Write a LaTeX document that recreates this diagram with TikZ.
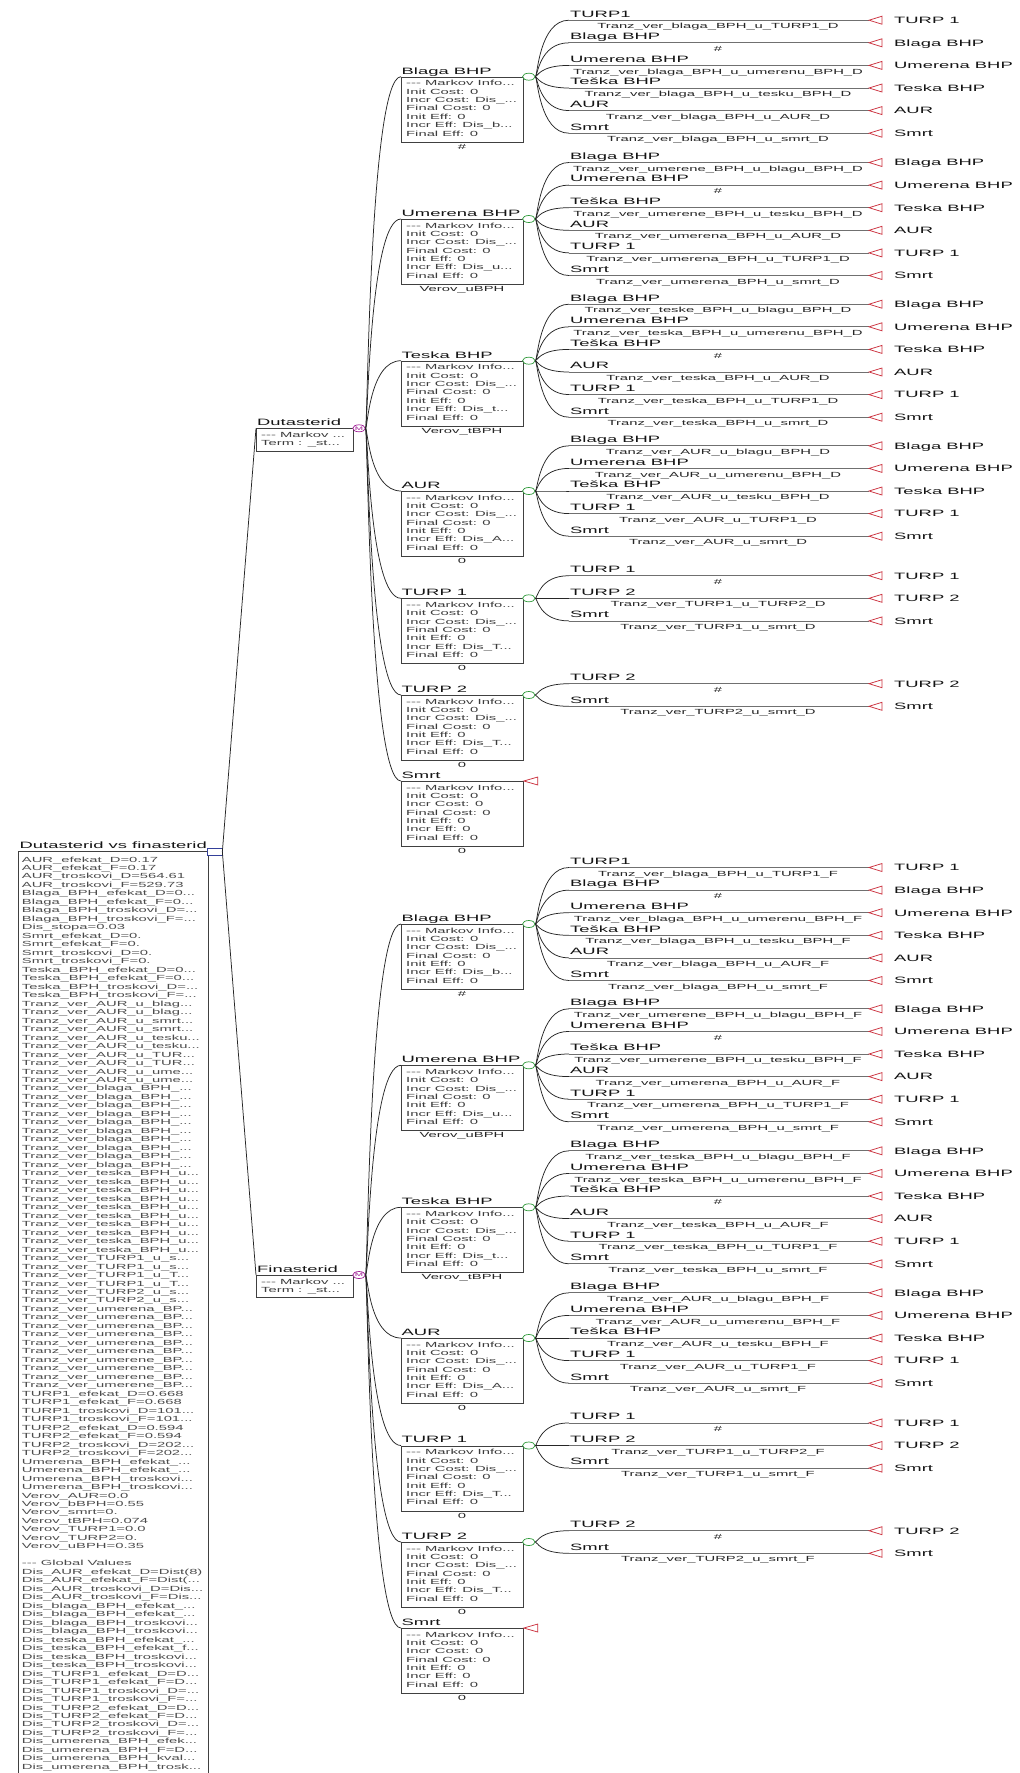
\documentclass[tikz,border=0pt]{standalone}
\usepackage{fontspec}
\setmainfont{Liberation Sans}[FakeStretch=2.0]
\usetikzlibrary{calc,shapes.geometric}
\definecolor{lnc}{HTML}{262626}
\definecolor{hln}{HTML}{707070}
\definecolor{trired}{HTML}{CC3340}
\definecolor{cgreen}{HTML}{2F9A3A}
\definecolor{mpurple}{HTML}{A01E96}
\definecolor{sqblue}{HTML}{34409A}
\definecolor{btc}{HTML}{3C3C3C}
\newcommand\fL{\fontsize{9.2}{10}\selectfont}
\newcommand\fS{\fontsize{7.4}{8.4}\selectfont}
\newcount\rowi
\tikzset{
 conn/.style={draw=lnc, line width=0.75pt},
 brl/.style={draw=hln, line width=0.75pt},
 tri/.style={draw=trired, line width=0.75pt, line join=miter},
 sbox/.style={draw=black!75, line width=0.8pt, anchor=north west, minimum width=122pt, minimum height=65pt, inner sep=0pt},
 mbox/.style={draw=black!75, line width=0.8pt, anchor=north west, minimum width=97pt, minimum height=22.4pt, inner sep=0pt},
 mlab/.style={anchor=base west, inner sep=0pt, font=\fL, text=black!92},
 btxt/.style={anchor=base west, inner sep=0pt, font=\fS, text=btc},
 ulab/.style={anchor=base, inner sep=0pt, font=\fS, text=black!85},
 rtxt/.style={anchor=base west, inner sep=0pt, font=\fS, text=black!70},
 circ/.style={ellipse, draw=cgreen, line width=0.7pt, minimum width=12.5pt, minimum height=7pt, inner sep=0pt, fill=white},
 mmark/.style={ellipse, draw=mpurple, line width=0.7pt, minimum width=12.5pt, minimum height=7pt, inner sep=0pt, fill=white, text=mpurple, font=\fontsize{5}{5}\selectfont},
 rsq/.style={rectangle, draw=sqblue, line width=0.7pt, minimum width=15pt, minimum height=7pt, inner sep=0pt, fill=white},
}
% connector: from #1 (node anchor) to #2 (node anchor / coordinate)
\newcommand\link[2]{\draw[conn] (#1) .. controls ($(#1)+(2,0)$) and ($(#1|-#2)+(4,0)$) .. (#2);}
% state box: #1 name, #2 top y, #3 label, #4 incr cost, #5 incr eff, #6 text below
\newcommand\statebox[6]{%
  \node[sbox] (#1) at (401,#2) {};
  \node[mlab] (#1L) at (401.5,#2-2.7) {#3};
  \node[btxt] (#1a) at (406,#2+9.2) {-{}-{}- Markov Info...};
  \node[btxt] (#1b) at (406,#2+17.55) {Init Cost: 0};
  \node[btxt] (#1c) at (406,#2+25.9) {Incr Cost: #4};
  \node[btxt] (#1d) at (406,#2+34.25) {Final Cost: 0};
  \node[btxt] (#1e) at (406,#2+42.6) {Init Eff: 0};
  \node[btxt] (#1f) at (406,#2+50.95) {Incr Eff: #5};
  \node[btxt] (#1g) at (406,#2+59.3) {Final Eff: 0};
  \node[ulab] (#1u) at (462,#2+72.6) {#6};
}
% green chance circle at the box's top right
\newcommand\chance[1]{\node[circ] (#1o) at ($(#1.north east)+(5,0)$) {};}
% terminal mark at the box's top right
\newcommand\term[1]{\coordinate (#1o) at (#1.north east); \draw[tri] (#1o) -- ++(14,-4) -- ++(0,8) -- cycle;}
% transition row: #1 parent circle, #2 name, #3 y, #4 label above, #5 label below, #6 label right
\newcommand\kid[6]{%
  \coordinate (#2) at (569,#3);
  \coordinate (#2t) at (869,#3);
  \link{#1.east}{#2}
  \draw[brl] (#2) -- (#2t);
  \draw[tri] (#2t) -- ++(13,-4) -- ++(0,8) -- cycle;
  \node[mlab] (#2a) at (570,#3-3.2) {#4};
  \node[ulab] (#2b) at (718,#3+8.6) {#5};
  \node[mlab] (#2r) at (894,#3+3.3) {#6};
}
% markov node: #1 name, #2 top y, #3 label
\newcommand\mnode[3]{%
  \node[mbox] (#1) at (256,#2) {};
  \node[mlab] (#1L) at (257,#2-2.7) {#3};
  \node[btxt] (#1a) at (261,#2+9.2) {-{}-{}- Markov ...};
  \node[btxt] (#1b) at (261,#2+17.5) {Term : \_st...};
  \node[mmark] (#1o) at (359,#2) {M};
}
\newcommand\rr[1]{\node[rtxt] (row\the\rowi) at (21.7,862+\rowi*8.48) {#1};\global\advance\rowi by 1\relax}

\begin{document}
\begin{tikzpicture}[x=1pt,y=-1pt]
\fill[white] (0,0) rectangle (1020,1773);
\useasboundingbox (0,0) rectangle (1020,1773);

%% ---------------- root ----------------
\draw[draw=black!75, line width=0.8pt] (18.3,1790) |- (208.3,851.7) -- (208.3,1790);
\node[mlab] (root) at (19.5,848) {Dutasterid vs finasterid};
\rowi=0
\rr{AUR\_efekat\_D=0.17}
\rr{AUR\_efekat\_F=0.17}
\rr{AUR\_troskovi\_D=564.61}
\rr{AUR\_troskovi\_F=529.73}
\rr{Blaga\_BPH\_efekat\_D=0...}
\rr{Blaga\_BPH\_efekat\_F=0...}
\rr{Blaga\_BPH\_troskovi\_D=...}
\rr{Blaga\_BPH\_troskovi\_F=...}
\rr{Dis\_stopa=0.03}
\rr{Smrt\_efekat\_D=0.}
\rr{Smrt\_efekat\_F=0.}
\rr{Smrt\_troskovi\_D=0.}
\rr{Smrt\_troskovi\_F=0.}
\rr{Teska\_BPH\_efekat\_D=0...}
\rr{Teska\_BPH\_efekat\_F=0...}
\rr{Teska\_BPH\_troskovi\_D=...}
\rr{Teska\_BPH\_troskovi\_F=...}
\rr{Tranz\_ver\_AUR\_u\_blag...}
\rr{Tranz\_ver\_AUR\_u\_blag...}
\rr{Tranz\_ver\_AUR\_u\_smrt...}
\rr{Tranz\_ver\_AUR\_u\_smrt...}
\rr{Tranz\_ver\_AUR\_u\_tesku...}
\rr{Tranz\_ver\_AUR\_u\_tesku...}
\rr{Tranz\_ver\_AUR\_u\_TUR...}
\rr{Tranz\_ver\_AUR\_u\_TUR...}
\rr{Tranz\_ver\_AUR\_u\_ume...}
\rr{Tranz\_ver\_AUR\_u\_ume...}
\rr{Tranz\_ver\_blaga\_BPH\_...}
\rr{Tranz\_ver\_blaga\_BPH\_...}
\rr{Tranz\_ver\_blaga\_BPH\_...}
\rr{Tranz\_ver\_blaga\_BPH\_...}
\rr{Tranz\_ver\_blaga\_BPH\_...}
\rr{Tranz\_ver\_blaga\_BPH\_...}
\rr{Tranz\_ver\_blaga\_BPH\_...}
\rr{Tranz\_ver\_blaga\_BPH\_...}
\rr{Tranz\_ver\_blaga\_BPH\_...}
\rr{Tranz\_ver\_blaga\_BPH\_...}
\rr{Tranz\_ver\_teska\_BPH\_u...}
\rr{Tranz\_ver\_teska\_BPH\_u...}
\rr{Tranz\_ver\_teska\_BPH\_u...}
\rr{Tranz\_ver\_teska\_BPH\_u...}
\rr{Tranz\_ver\_teska\_BPH\_u...}
\rr{Tranz\_ver\_teska\_BPH\_u...}
\rr{Tranz\_ver\_teska\_BPH\_u...}
\rr{Tranz\_ver\_teska\_BPH\_u...}
\rr{Tranz\_ver\_teska\_BPH\_u...}
\rr{Tranz\_ver\_teska\_BPH\_u...}
\rr{Tranz\_ver\_TURP1\_u\_s...}
\rr{Tranz\_ver\_TURP1\_u\_s...}
\rr{Tranz\_ver\_TURP1\_u\_T...}
\rr{Tranz\_ver\_TURP1\_u\_T...}
\rr{Tranz\_ver\_TURP2\_u\_s...}
\rr{Tranz\_ver\_TURP2\_u\_s...}
\rr{Tranz\_ver\_umerena\_BP...}
\rr{Tranz\_ver\_umerena\_BP...}
\rr{Tranz\_ver\_umerena\_BP...}
\rr{Tranz\_ver\_umerena\_BP...}
\rr{Tranz\_ver\_umerena\_BP...}
\rr{Tranz\_ver\_umerena\_BP...}
\rr{Tranz\_ver\_umerene\_BP...}
\rr{Tranz\_ver\_umerene\_BP...}
\rr{Tranz\_ver\_umerene\_BP...}
\rr{Tranz\_ver\_umerene\_BP...}
\rr{TURP1\_efekat\_D=0.668}
\rr{TURP1\_efekat\_F=0.668}
\rr{TURP1\_troskovi\_D=101...}
\rr{TURP1\_troskovi\_F=101...}
\rr{TURP2\_efekat\_D=0.594}
\rr{TURP2\_efekat\_F=0.594}
\rr{TURP2\_troskovi\_D=202...}
\rr{TURP2\_troskovi\_F=202...}
\rr{Umerena\_BPH\_efekat\_...}
\rr{Umerena\_BPH\_efekat\_...}
\rr{Umerena\_BPH\_troskovi...}
\rr{Umerena\_BPH\_troskovi...}
\rr{Verov\_AUR=0.0}
\rr{Verov\_bBPH=0.55}
\rr{Verov\_smrt=0.}
\rr{Verov\_tBPH=0.074}
\rr{Verov\_TURP1=0.0}
\rr{Verov\_TURP2=0.}
\rr{Verov\_uBPH=0.35}
\rr{}
\rr{-{}-{}- Global Values}
\rr{Dis\_AUR\_efekat\_D=Dist(8)}
\rr{Dis\_AUR\_efekat\_F=Dist(...}
\rr{Dis\_AUR\_troskovi\_D=Dis...}
\rr{Dis\_AUR\_troskovi\_F=Dis...}
\rr{Dis\_blaga\_BPH\_efekat\_...}
\rr{Dis\_blaga\_BPH\_efekat\_...}
\rr{Dis\_blaga\_BPH\_troskovi...}
\rr{Dis\_blaga\_BPH\_troskovi...}
\rr{Dis\_teska\_BPH\_efekat\_...}
\rr{Dis\_teska\_BPH\_efekat\_f...}
\rr{Dis\_teska\_BPH\_troskovi...}
\rr{Dis\_teska\_BPH\_troskovi...}
\rr{Dis\_TURP1\_efekat\_D=D...}
\rr{Dis\_TURP1\_efekat\_F=D...}
\rr{Dis\_TURP1\_troskovi\_D=...}
\rr{Dis\_TURP1\_troskovi\_F=...}
\rr{Dis\_TURP2\_efekat\_D=D...}
\rr{Dis\_TURP2\_efekat\_F=D...}
\rr{Dis\_TURP2\_troskovi\_D=...}
\rr{Dis\_TURP2\_troskovi\_F=...}
\rr{Dis\_umerena\_BPH\_efek...}
\rr{Dis\_umerena\_BPH\_F=D...}
\rr{Dis\_umerena\_BPH\_kval...}
\rr{Dis\_umerena\_BPH\_trosk...}

%% ---------------- Markov nodes ----------------
\mnode{dut}{428.3}{Dutasterid}
\mnode{fin}{1275}{Finasterid}
\node[rsq] (rsq) at (214.5,851.7) {};
\draw[conn] (rsq.east) -- (dut.north west);
\draw[conn] (rsq.east) -- (fin.north west);

%% ================= Dutasterid =================
\statebox{dB}{76.7}{Blaga BHP}{Dis\_...}{Dis\_b...}{\#}
\statebox{dU}{219}{Umerena BHP}{Dis\_...}{Dis\_u...}{Verov\_uBPH}
\statebox{dT}{360.7}{Teska BHP}{Dis\_...}{Dis\_t...}{Verov\_tBPH}
\statebox{dA}{491}{AUR}{Dis\_...}{Dis\_A...}{0}
\statebox{dP}{598.3}{TURP 1}{Dis\_...}{Dis\_T...}{0}
\statebox{dQ}{695}{TURP 2}{Dis\_...}{Dis\_T...}{0}
\statebox{dS}{781}{Smrt}{0}{0}{0}
\foreach \s in {dB,dU,dT,dA,dP,dQ,dS} {\link{duto.east}{\s.north west}}
\chance{dB}\chance{dU}\chance{dT}\chance{dA}\chance{dP}\chance{dQ}\term{dS}

\kid{dBo}{dB1}{76.7-56.5}{TURP1}{Tranz\_ver\_blaga\_BPH\_u\_TURP1\_D}{TURP 1}
\kid{dBo}{dB2}{76.7-33.9}{Blaga BHP}{\#}{Blaga BHP}
\kid{dBo}{dB3}{76.7-11.3}{Umerena BHP}{Tranz\_ver\_blaga\_BPH\_u\_umerenu\_BPH\_D}{Umerena BHP}
\kid{dBo}{dB4}{76.7+11.3}{Teška BHP}{Tranz\_ver\_blaga\_BPH\_u\_tesku\_BPH\_D}{Teska BHP}
\kid{dBo}{dB5}{76.7+33.9}{AUR}{Tranz\_ver\_blaga\_BPH\_u\_AUR\_D}{AUR}
\kid{dBo}{dB6}{76.7+56.5}{Smrt}{Tranz\_ver\_blaga\_BPH\_u\_smrt\_D}{Smrt}

\kid{dUo}{dU1}{219-56.5}{Blaga BHP}{Tranz\_ver\_umerene\_BPH\_u\_blagu\_BPH\_D}{Blaga BHP}
\kid{dUo}{dU2}{219-33.9}{Umerena BHP}{\#}{Umerena BHP}
\kid{dUo}{dU3}{219-11.3}{Teška BHP}{Tranz\_ver\_umerene\_BPH\_u\_tesku\_BPH\_D}{Teska BHP}
\kid{dUo}{dU4}{219+11.3}{AUR}{Tranz\_ver\_umerena\_BPH\_u\_AUR\_D}{AUR}
\kid{dUo}{dU5}{219+33.9}{TURP 1}{Tranz\_ver\_umerena\_BPH\_u\_TURP1\_D}{TURP 1}
\kid{dUo}{dU6}{219+56.5}{Smrt}{Tranz\_ver\_umerena\_BPH\_u\_smrt\_D}{Smrt}

\kid{dTo}{dT1}{360.7-56.5}{Blaga BHP}{Tranz\_ver\_teske\_BPH\_u\_blagu\_BPH\_D}{Blaga BHP}
\kid{dTo}{dT2}{360.7-33.9}{Umerena BHP}{Tranz\_ver\_teska\_BPH\_u\_umerenu\_BPH\_D}{Umerena BHP}
\kid{dTo}{dT3}{360.7-11.3}{Teška BHP}{\#}{Teska BHP}
\kid{dTo}{dT4}{360.7+11.3}{AUR}{Tranz\_ver\_teska\_BPH\_u\_AUR\_D}{AUR}
\kid{dTo}{dT5}{360.7+33.9}{TURP 1}{Tranz\_ver\_teska\_BPH\_u\_TURP1\_D}{TURP 1}
\kid{dTo}{dT6}{360.7+56.5}{Smrt}{Tranz\_ver\_teska\_BPH\_u\_smrt\_D}{Smrt}

\kid{dAo}{dA1}{491-45.2}{Blaga BHP}{Tranz\_ver\_AUR\_u\_blagu\_BPH\_D}{Blaga BHP}
\kid{dAo}{dA2}{491-22.6}{Umerena BHP}{Tranz\_ver\_AUR\_u\_umerenu\_BPH\_D}{Umerena BHP}
\kid{dAo}{dA3}{491}{Teška BHP}{Tranz\_ver\_AUR\_u\_tesku\_BPH\_D}{Teska BHP}
\kid{dAo}{dA4}{491+22.6}{TURP 1}{Tranz\_ver\_AUR\_u\_TURP1\_D}{TURP 1}
\kid{dAo}{dA5}{491+45.2}{Smrt}{Tranz\_ver\_AUR\_u\_smrt\_D}{Smrt}

\kid{dPo}{dP1}{598.3-22.6}{TURP 1}{\#}{TURP 1}
\kid{dPo}{dP2}{598.3}{TURP 2}{Tranz\_ver\_TURP1\_u\_TURP2\_D}{TURP 2}
\kid{dPo}{dP3}{598.3+22.6}{Smrt}{Tranz\_ver\_TURP1\_u\_smrt\_D}{Smrt}

\kid{dQo}{dQ1}{695-11.3}{TURP 2}{\#}{TURP 2}
\kid{dQo}{dQ2}{695+11.3}{Smrt}{Tranz\_ver\_TURP2\_u\_smrt\_D}{Smrt}

%% ================= Finasterid =================
\statebox{fB}{924}{Blaga BHP}{Dis\_...}{Dis\_b...}{\#}
\statebox{fU}{1065.3}{Umerena BHP}{Dis\_...}{Dis\_u...}{Verov\_uBPH}
\statebox{fT}{1207.3}{Teska BHP}{Dis\_...}{Dis\_t...}{Verov\_tBPH}
\statebox{fA}{1338}{AUR}{Dis\_...}{Dis\_A...}{0}
\statebox{fP}{1445.5}{TURP 1}{Dis\_...}{Dis\_T...}{0}
\statebox{fQ}{1542}{TURP 2}{Dis\_...}{Dis\_T...}{0}
\statebox{fS}{1628}{Smrt}{0}{0}{0}
\foreach \s in {fB,fU,fT,fA,fP,fQ,fS} {\link{fino.east}{\s.north west}}
\chance{fB}\chance{fU}\chance{fT}\chance{fA}\chance{fP}\chance{fQ}\term{fS}

\kid{fBo}{fB1}{924-56.5}{TURP1}{Tranz\_ver\_blaga\_BPH\_u\_TURP1\_F}{TURP 1}
\kid{fBo}{fB2}{924-33.9}{Blaga BHP}{\#}{Blaga BHP}
\kid{fBo}{fB3}{924-11.3}{Umerena BHP}{Tranz\_ver\_blaga\_BPH\_u\_umerenu\_BPH\_F}{Umerena BHP}
\kid{fBo}{fB4}{924+11.3}{Teška BHP}{Tranz\_ver\_blaga\_BPH\_u\_tesku\_BPH\_F}{Teska BHP}
\kid{fBo}{fB5}{924+33.9}{AUR}{Tranz\_ver\_blaga\_BPH\_u\_AUR\_F}{AUR}
\kid{fBo}{fB6}{924+56.5}{Smrt}{Tranz\_ver\_blaga\_BPH\_u\_smrt\_F}{Smrt}

\kid{fUo}{fU1}{1065.3-56.5}{Blaga BHP}{Tranz\_ver\_umerene\_BPH\_u\_blagu\_BPH\_F}{Blaga BHP}
\kid{fUo}{fU2}{1065.3-33.9}{Umerena BHP}{\#}{Umerena BHP}
\kid{fUo}{fU3}{1065.3-11.3}{Teška BHP}{Tranz\_ver\_umerene\_BPH\_u\_tesku\_BPH\_F}{Teska BHP}
\kid{fUo}{fU4}{1065.3+11.3}{AUR}{Tranz\_ver\_umerena\_BPH\_u\_AUR\_F}{AUR}
\kid{fUo}{fU5}{1065.3+33.9}{TURP 1}{Tranz\_ver\_umerena\_BPH\_u\_TURP1\_F}{TURP 1}
\kid{fUo}{fU6}{1065.3+56.5}{Smrt}{Tranz\_ver\_umerena\_BPH\_u\_smrt\_F}{Smrt}

\kid{fTo}{fT1}{1207.3-56.5}{Blaga BHP}{Tranz\_ver\_teska\_BPH\_u\_blagu\_BPH\_F}{Blaga BHP}
\kid{fTo}{fT2}{1207.3-33.9}{Umerena BHP}{Tranz\_ver\_teska\_BPH\_u\_umerenu\_BPH\_F}{Umerena BHP}
\kid{fTo}{fT3}{1207.3-11.3}{Teška BHP}{\#}{Teska BHP}
\kid{fTo}{fT4}{1207.3+11.3}{AUR}{Tranz\_ver\_teska\_BPH\_u\_AUR\_F}{AUR}
\kid{fTo}{fT5}{1207.3+33.9}{TURP 1}{Tranz\_ver\_teska\_BPH\_u\_TURP1\_F}{TURP 1}
\kid{fTo}{fT6}{1207.3+56.5}{Smrt}{Tranz\_ver\_teska\_BPH\_u\_smrt\_F}{Smrt}

\kid{fAo}{fA1}{1338-45.2}{Blaga BHP}{Tranz\_ver\_AUR\_u\_blagu\_BPH\_F}{Blaga BHP}
\kid{fAo}{fA2}{1338-22.6}{Umerena BHP}{Tranz\_ver\_AUR\_u\_umerenu\_BPH\_F}{Umerena BHP}
\kid{fAo}{fA3}{1338}{Teška BHP}{Tranz\_ver\_AUR\_u\_tesku\_BPH\_F}{Teska BHP}
\kid{fAo}{fA4}{1338+22.6}{TURP 1}{Tranz\_ver\_AUR\_u\_TURP1\_F}{TURP 1}
\kid{fAo}{fA5}{1338+45.2}{Smrt}{Tranz\_ver\_AUR\_u\_smrt\_F}{Smrt}

\kid{fPo}{fP1}{1445.5-22.6}{TURP 1}{\#}{TURP 1}
\kid{fPo}{fP2}{1445.5}{TURP 2}{Tranz\_ver\_TURP1\_u\_TURP2\_F}{TURP 2}
\kid{fPo}{fP3}{1445.5+22.6}{Smrt}{Tranz\_ver\_TURP1\_u\_smrt\_F}{Smrt}

\kid{fQo}{fQ1}{1542-11.3}{TURP 2}{\#}{TURP 2}
\kid{fQo}{fQ2}{1542+11.3}{Smrt}{Tranz\_ver\_TURP2\_u\_smrt\_F}{Smrt}
\end{tikzpicture}
\end{document}
